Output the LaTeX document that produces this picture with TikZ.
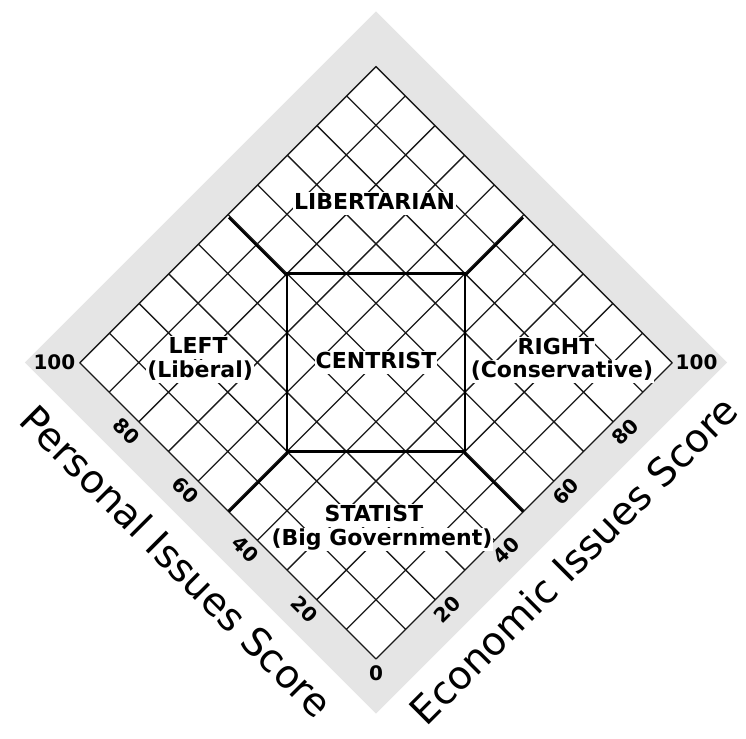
\documentclass[tikz,border=0pt]{standalone}
\usepackage{fontspec}
\setmainfont{DejaVu Sans}
\definecolor{nolanGrey}{HTML}{E5E5E5}
\definecolor{nolanInk}{HTML}{1A1A1A}
\usepackage{tikz}
\usetikzlibrary{positioning}

\begin{document}
\begin{tikzpicture}[x=1pt, y=1pt, node distance=0pt,
  region/.style={fill=white, inner sep=1pt, text height=16.5pt, text depth=4.5pt,
    font=\bfseries\fontsize{22}{23}\selectfont},
  tick/.style={inner sep=1pt, font=\bfseries\fontsize{20}{20}\selectfont},
  axis/.style={inner sep=0pt, font=\fontsize{39}{39}\selectfont},
  gridline/.style={draw=nolanInk, line width=1.3pt},
  divider/.style={draw=black, line width=2.4pt}]
  \useasboundingbox (0,0) rectangle (746,738);
  \begin{scope}[shift={(376,79)}, rotate=45, scale=41.93]
    \fill[nolanGrey] (-0.92,-0.92) rectangle (10.92,10.92);
    \fill[white] (0,0) rectangle (10,10);
    \draw[gridline, step=1] (0,0) grid (10,10);
    \coordinate (nwEdge) at (5,10);
    \coordinate (neEdge) at (10,5);
    \coordinate (swEdge) at (0,5);
    \coordinate (seEdge) at (5,0);
    \coordinate (libPos) at (7.65,7.7);
    \coordinate (leftPos) at (2.25,8.25);
    \coordinate (rightPos) at (8.27,2.2);
    \coordinate (statPos) at (2.38,2.45);
    \node[draw=black, line width=2.2pt, minimum size=177.9pt, inner sep=0pt,
      outer sep=0pt] (centre) at (5,5) {};
    \draw[divider] (centre.north west) -- (nwEdge);
    \draw[divider] (centre.north east) -- (neEdge);
    \draw[divider] (centre.south west) -- (swEdge);
    \draw[divider] (centre.south east) -- (seEdge);
    % scores
    \node[tick, left=3pt] (p100) at (0,10) {100};
    \node[tick, right=2pt] (e100) at (10,0) {100};
    \node[tick, below=5pt] (zero) at (0,0) {0};
    \node[tick, rotate=-45] (p80) at (-0.36,8.05) {80};
    \node[tick, rotate=-45] (p60) at (-0.36,6.05) {60};
    \node[tick, rotate=-45] (p40) at (-0.36,4.05) {40};
    \node[tick, rotate=-45] (p20) at (-0.36,2.05) {20};
    \node[tick, rotate=45] (e80) at (8.03,-0.37) {80};
    \node[tick, rotate=45] (e60) at (6.03,-0.37) {60};
    \node[tick, rotate=45] (e40) at (4.03,-0.37) {40};
    \node[tick, rotate=45] (e20) at (2.03,-0.37) {20};
    % axis titles
    \node[axis, rotate=-45] (personal) at (-1.71,5) {Personal Issues Score};
    \node[axis, rotate=45] (economic) at (5.0,-1.66) {Economic Issues Score};
  \end{scope}
  % region names
  \node[region] (centrist) at (centre) {CENTRIST};
  \node[region] (libertarian) at (libPos) {LIBERTARIAN};
  \node[region] (left) at (leftPos) {LEFT};
  \node[region, below=of left, xshift=2pt] (liberal) {(Liberal)};
  \node[region] (right) at (rightPos) {RIGHT};
  \node[region, below=of right, xshift=6pt] (conservative) {(Conservative)};
  \node[region] (statist) at (statPos) {STATIST};
  \node[region, below=of statist, xshift=8pt] (bigGov) {(Big Government)};
\end{tikzpicture}
\end{document}
